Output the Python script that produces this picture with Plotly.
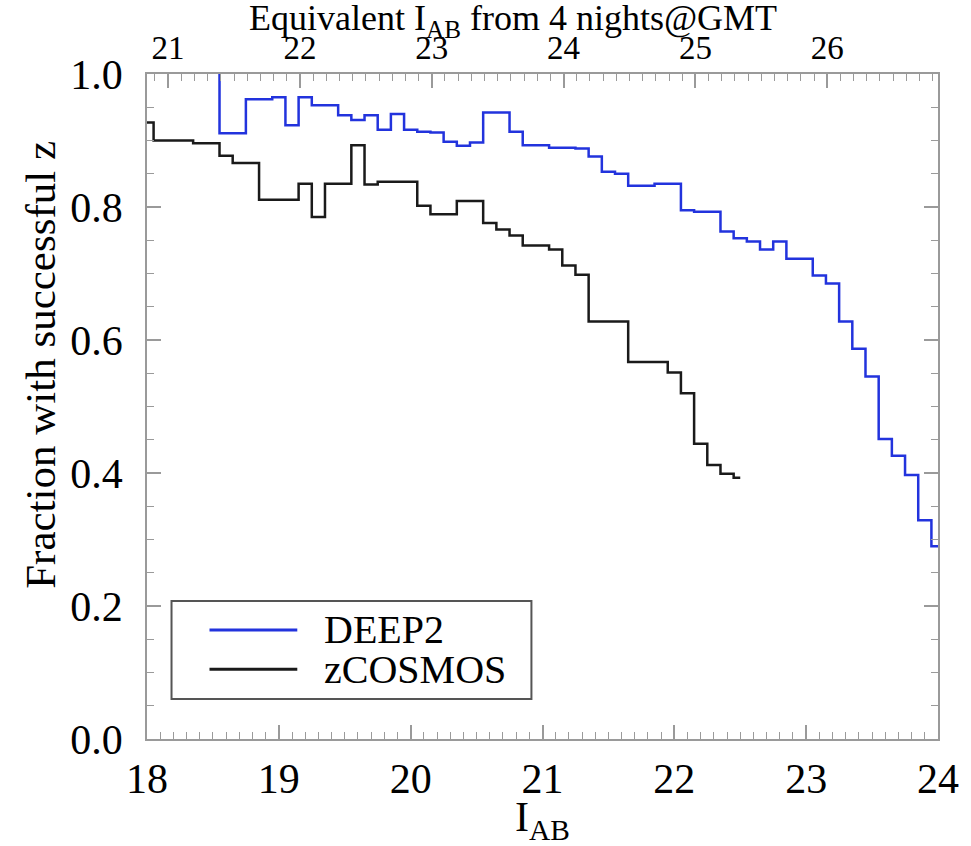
import plotly.graph_objects as go

# ---- data ----
deep2_mag = [18.5, 18.6, 18.7, 18.8, 18.9, 19.0, 19.1, 19.2, 19.3, 19.4, 19.5, 19.6, 19.7, 19.8,
             19.9, 20.0, 20.1, 20.2, 20.3, 20.4, 20.5, 20.6, 20.7, 20.8, 20.9, 21.0, 21.1, 21.2,
             21.3, 21.4, 21.5, 21.6, 21.7, 21.8, 21.9, 22.0, 22.1, 22.2, 22.3, 22.4, 22.5, 22.6,
             22.7, 22.8, 22.9, 23.0, 23.1, 23.2, 23.3, 23.4, 23.5, 23.6, 23.7, 23.8, 23.9, 24.0]
deep2_frac = [1.05, 0.911, 0.911, 0.962, 0.962, 0.965, 0.923, 0.965, 0.953, 0.953, 0.938, 0.931,
              0.938, 0.916, 0.940, 0.916, 0.913, 0.912, 0.898, 0.892, 0.897, 0.942, 0.942, 0.913,
              0.893, 0.893, 0.889, 0.889, 0.888, 0.876, 0.853, 0.850, 0.832, 0.832, 0.835, 0.835,
              0.795, 0.793, 0.793, 0.763, 0.753, 0.748, 0.736, 0.748, 0.722, 0.722, 0.697, 0.685,
              0.628, 0.587, 0.545, 0.451, 0.426, 0.397, 0.329, 0.290]

zcosmos_mag = [18.0, 18.1, 18.2, 18.3, 18.4, 18.5, 18.6, 18.7, 18.8, 18.9, 19.0, 19.1, 19.2, 19.3,
               19.4, 19.5, 19.6, 19.7, 19.8, 19.9, 20.0, 20.1, 20.2, 20.3, 20.4, 20.5, 20.6, 20.7,
               20.8, 20.9, 21.0, 21.1, 21.2, 21.3, 21.4, 21.5, 21.6, 21.7, 21.8, 21.9, 22.0, 22.1,
               22.2, 22.3, 22.4, 22.5]
zcosmos_frac = [0.927, 0.900, 0.900, 0.900, 0.896, 0.896, 0.877, 0.866, 0.866, 0.811, 0.811, 0.811,
                0.835, 0.785, 0.835, 0.835, 0.893, 0.834, 0.838, 0.838, 0.838, 0.802, 0.789, 0.789,
                0.809, 0.809, 0.776, 0.766, 0.757, 0.742, 0.742, 0.736, 0.712, 0.698, 0.628, 0.628,
                0.628, 0.567, 0.567, 0.567, 0.551, 0.520, 0.444, 0.412, 0.399, 0.393]

bottom_ticks = [18, 19, 20, 21, 22, 23, 24]
top_ticks = [21, 22, 23, 24, 25, 26]
gmt_offset = 2.84  # equivalent-magnitude shift of the top axis

series_names = ["DEEP2", "zCOSMOS"]
series_colors = ["#2233dd", "#1a1a1a"]

FONT = "Liberation Serif"
AXC = "#9a9a9a"

fig = go.Figure()
fig.add_trace(go.Scatter(x=deep2_mag, y=deep2_frac, mode="lines", name=series_names[0],
                         line=dict(color=series_colors[0], width=2.5, shape="hvh"),
                         showlegend=False))
fig.add_trace(go.Scatter(x=zcosmos_mag, y=zcosmos_frac, mode="lines", name=series_names[1],
                         line=dict(color=series_colors[1], width=2.5, shape="hvh"),
                         showlegend=False))
# empty trace to activate the top axis
fig.add_trace(go.Scatter(x=[], y=[], xaxis="x2", yaxis="y", showlegend=False, hoverinfo="skip"))

xmin, xmax = bottom_ticks[0], bottom_ticks[-1]

fig.update_layout(
    width=971, height=846,
    margin=dict(l=147, r=30, t=74, b=106),
    paper_bgcolor="white", plot_bgcolor="white",
    font=dict(family=FONT, size=42, color="black"),
    xaxis=dict(range=[xmin, xmax], tickvals=bottom_ticks, ticks="inside", ticklen=14,
               tickwidth=1.5, tickcolor=AXC, showline=True, linecolor=AXC, linewidth=1.5,
               mirror=True, showgrid=False, zeroline=False,
               minor=dict(dtick=0.1, ticks="inside", ticklen=7, tickcolor=AXC, tickwidth=1.2,
                          showgrid=False),
               tickfont=dict(size=42), ticklabelstandoff=2,
               title=dict(text="I<sub>AB</sub>", font=dict(size=42), standoff=2)),
    xaxis2=dict(overlaying="x", side="top", anchor="y",
                range=[xmin + gmt_offset, xmax + gmt_offset], tickvals=top_ticks,
                ticks="inside", ticklen=14, tickwidth=1.5, tickcolor=AXC,
                showline=True, linecolor=AXC, linewidth=1.5, showgrid=False, zeroline=False,
                minor=dict(dtick=0.1, ticks="inside", ticklen=7, tickcolor=AXC, tickwidth=1.2,
                           showgrid=False),
                tickfont=dict(size=33), ticklabelstandoff=0),
    yaxis=dict(range=[0, 1], dtick=0.2, tickformat=".1f", ticks="inside", ticklen=14,
               tickwidth=1.5, tickcolor=AXC, showline=True, linecolor=AXC, linewidth=1.5,
               mirror="ticks", showgrid=False, zeroline=False,
               minor=dict(dtick=0.05, ticks="inside", ticklen=7, tickcolor=AXC, tickwidth=1.2,
                          showgrid=False),
               tickfont=dict(size=42), ticklabelstandoff=14),
)

# y-axis title (placed as in the reference, slightly above the axis centre)
fig.add_annotation(text="Fraction with successful z", xref="paper", yref="paper",
                   x=-0.135, y=0.563, textangle=-90, xanchor="center", yanchor="middle",
                   showarrow=False, font=dict(size=43, family=FONT))

# top axis title
fig.add_annotation(text="Equivalent I<sub>AB</sub> from 4 nights@GMT", xref="paper", yref="paper",
                   x=0.463, y=1.0, yshift=54, xanchor="center", yanchor="middle",
                   showarrow=False, font=dict(size=36, family=FONT))

# legend drawn manually (box, sample lines, labels)
fig.add_shape(type="rect", xref="paper", yref="paper", x0=0.031, x1=0.486, y0=0.060, y1=0.2077,
              line=dict(color="#555555", width=2), fillcolor="white", layer="above")
leg_y = [0.164, 0.105]
for name, color, yy in zip(series_names, series_colors, leg_y):
    fig.add_shape(type="line", xref="paper", yref="paper", x0=0.079, x1=0.190, y0=yy, y1=yy,
                  line=dict(color=color, width=3), layer="above")
    fig.add_annotation(text=name, xref="paper", yref="paper", x=0.2217, y=yy, xanchor="left",
                       yanchor="middle", showarrow=False, font=dict(size=40, family=FONT))

fig.write_html("out.html")
